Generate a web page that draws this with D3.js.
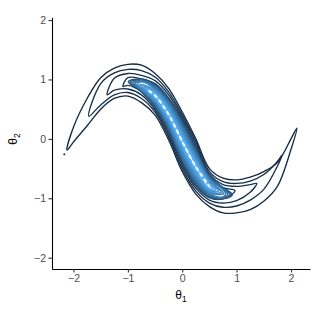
<!DOCTYPE html>
<html>
<head>
<meta charset="utf-8">
<script src="https://cdn.jsdelivr.net/npm/d3@7"></script>
<style>
  body { margin: 0; background: #fff; }
  svg { display: block; }
  text { font-family: "Liberation Sans", Arial, sans-serif; }
</style>
</head>
<body>
<svg width="319" height="319"></svg>
<script>
const xTicks = [-2, -1, 0, 1, 2];
const yTicks = [-2, -1, 0, 1, 2];

const theta1Grid = [-2, -1.75, -1.5, -1.25, -1, -0.75, -0.5, -0.25, 0, 0.25, 0.5, 0.75, 1, 1.25, 1.5, 1.75, 2];

// dark outer contours, outermost first
const ringLeftTip = [[-2.12, -0.19], [-1.72, 0.38], [-1.38, 0.74], [-1.09, 0.88]];
const ringRightTip = [[2.11, 0.18], [1.83, -0.28], [1.37, -0.75], [0.97, -0.87]];
const ringUpper = [
  [0.20, 0.68, 1.03, 1.19, 1.255, 1.24, 1.10, 0.85, 0.45, 0.0, -0.50, -0.66, -0.69, -0.645, -0.55, -0.40, 0.0],
  [null, null, 0.93, 1.11, 1.17, 1.15, 1.04, 0.79, 0.40, -0.05, -0.55, -0.72, -0.75, -0.71, -0.60, -0.38, null],
  [null, null, null, 1.02, 1.10, 1.07, 0.98, 0.74, 0.36, -0.10, -0.59, -0.77, -0.80, -0.77, null, null, null],
  [null, null, null, null, 1.03, 1.01, 0.93, 0.69, 0.32, -0.15, -0.62, -0.82, null, null, null, null, null]
];
const ringLower = [
  [-0.05, 0.22, 0.50, 0.68, 0.72, 0.61, 0.40, -0.02, -0.55, -0.93, -1.14, -1.245, -1.245, -1.19, -1.05, -0.80, -0.18],
  [null, null, 0.57, 0.74, 0.78, 0.68, 0.45, 0.03, -0.50, -0.88, -1.08, -1.15, -1.13, -1.03, -0.85, -0.46, null],
  [null, null, null, 0.82, 0.84, 0.74, 0.49, 0.08, -0.45, -0.83, -1.03, -1.08, -1.04, -0.90, null, null, null],
  [null, null, null, null, 0.90, 0.79, 0.53, 0.13, -0.41, -0.79, -0.99, -1.01, null, null, null, null, null]
];
// tiny island contour near the left end
const islands = [[-2.17, -0.26]];

// ridge of the dense band and its half width (theta2 units)
const ridgeTheta1 = [-1, -0.75, -0.5, -0.25, 0, 0.25, 0.5, 0.75, 1];
const ridgeTheta2 = [0.965, 0.90, 0.73, 0.41, -0.045, -0.47, -0.80, -0.915, -0.95];
const ridgeHalf = [0.05, 0.115, 0.2, 0.29, 0.37, 0.33, 0.2, 0.1, 0.04];
// inner (lighter) contour levels inside the band
const bandShare = [0.92, 0.82, 0.72, 0.63, 0.54, 0.45, 0.36, 0.27, 0.19, 0.11];
const bandFrom = [-0.99, -0.95, -0.91, -0.87, -0.83, -0.79, -0.75, -0.71, -0.68, -0.65];
const bandTo = [0.92, 0.88, 0.84, 0.80, 0.76, 0.72, 0.67, 0.62, 0.57, 0.52];
const peakFrom = -0.62, peakTo = 0.5;

const svg = d3.select('svg');
const x = d3.scaleLinear().domain([-2.396, 2.35]).range([52, 310]);
const y = d3.scaleLinear().domain([-2.19, 2.046]).range([269, 17.3]);
const colour = d3.interpolateLab('#132B43', '#56B1F7');

const ringPath = d3.line()
  .x(d => x(d[0])).y(d => y(d[1]))
  .curve(d3.curveCatmullRomClosed.alpha(0.5));

const plot = svg.append('g');

// outer rings
ringUpper.forEach((up, i) => {
  const pts = [ringLeftTip[i]];
  theta1Grid.forEach((t, j) => { if (up[j] != null) pts.push([t, up[j]]); });
  pts.push(ringRightTip[i]);
  for (let j = theta1Grid.length - 1; j >= 0; j--) {
    if (ringLower[i][j] != null) pts.push([theta1Grid[j], ringLower[i][j]]);
  }
  plot.append('path')
    .attr('d', ringPath(pts))
    .attr('fill', 'none')
    .attr('stroke', colour(i * 0.03))
    .attr('stroke-width', 1.35);
});

islands.forEach(p => {
  plot.append('circle')
    .attr('cx', x(p[0])).attr('cy', y(p[1])).attr('r', 1)
    .attr('fill', colour(0));
});

// band levels
const ridge = d3.scaleLinear().domain(ridgeTheta1).range(ridgeTheta2);
const half = d3.scaleLinear().domain(ridgeTheta1).range(ridgeHalf);
const n = bandShare.length;

bandShare.forEach((s, i) => {
  const a = bandFrom[i], b = bandTo[i];
  const inside = ridgeTheta1.filter(t => t > a + 0.04 && t < b - 0.04);
  const pts = [[a, ridge(a)]];
  inside.forEach(t => pts.push([t, ridge(t) + s * half(t)]));
  pts.push([b, ridge(b)]);
  inside.slice().reverse().forEach(t => pts.push([t, ridge(t) - s * half(t)]));
  plot.append('path')
    .attr('d', ringPath(pts))
    .attr('fill', 'none')
    .attr('stroke', colour(0.3 + 0.7 * Math.pow(i / (n - 1), 0.75)))
    .attr('stroke-width', 1.6);
});

// white gaps along the peak
const peakPts = ridgeTheta1.filter(t => t > peakFrom && t < peakTo);
plot.append('path')
  .attr('d', d3.line().x(d => x(d)).y(d => y(ridge(d))).curve(d3.curveCatmullRom)([peakFrom, ...peakPts, peakTo]))
  .attr('fill', 'none')
  .attr('stroke', '#fff')
  .attr('stroke-width', 2)
  .attr('stroke-dasharray', '4 3');

// axes
const fmt = d3.format('d');
const xAxis = svg.append('g')
  .attr('transform', 'translate(0,269)')
  .call(d3.axisBottom(x).tickValues(xTicks).tickFormat(fmt).tickSize(3.5).tickSizeOuter(0).tickPadding(2.5));
const yAxis = svg.append('g')
  .attr('transform', 'translate(52,0)')
  .call(d3.axisLeft(y).tickValues(yTicks).tickFormat(fmt).tickSize(3.5).tickSizeOuter(0).tickPadding(2.5));

[xAxis, yAxis].forEach(g => {
  g.select('.domain').attr('stroke', '#000').attr('stroke-width', 1.1);
  g.selectAll('.tick line').attr('stroke', '#333').attr('stroke-width', 1.1);
  g.selectAll('.tick text').attr('fill', '#4D4D4D').style('font-size', '10.5px')
    .style('font-family', '"Liberation Sans", Arial, sans-serif');
});

// axis titles
const xt = svg.append('text').attr('x', 181).attr('y', 299).attr('text-anchor', 'middle')
  .style('font-size', '12px').attr('fill', '#000');
xt.append('tspan').text('θ');
xt.append('tspan').text('1').attr('dy', 2.5).style('font-size', '8.5px');

const yt = svg.append('text').attr('transform', 'translate(17,139) rotate(-90)')
  .attr('text-anchor', 'middle').style('font-size', '12px').attr('fill', '#000');
yt.append('tspan').text('θ');
yt.append('tspan').text('2').attr('dy', 2.5).style('font-size', '8.5px');
</script>
</body>
</html>
